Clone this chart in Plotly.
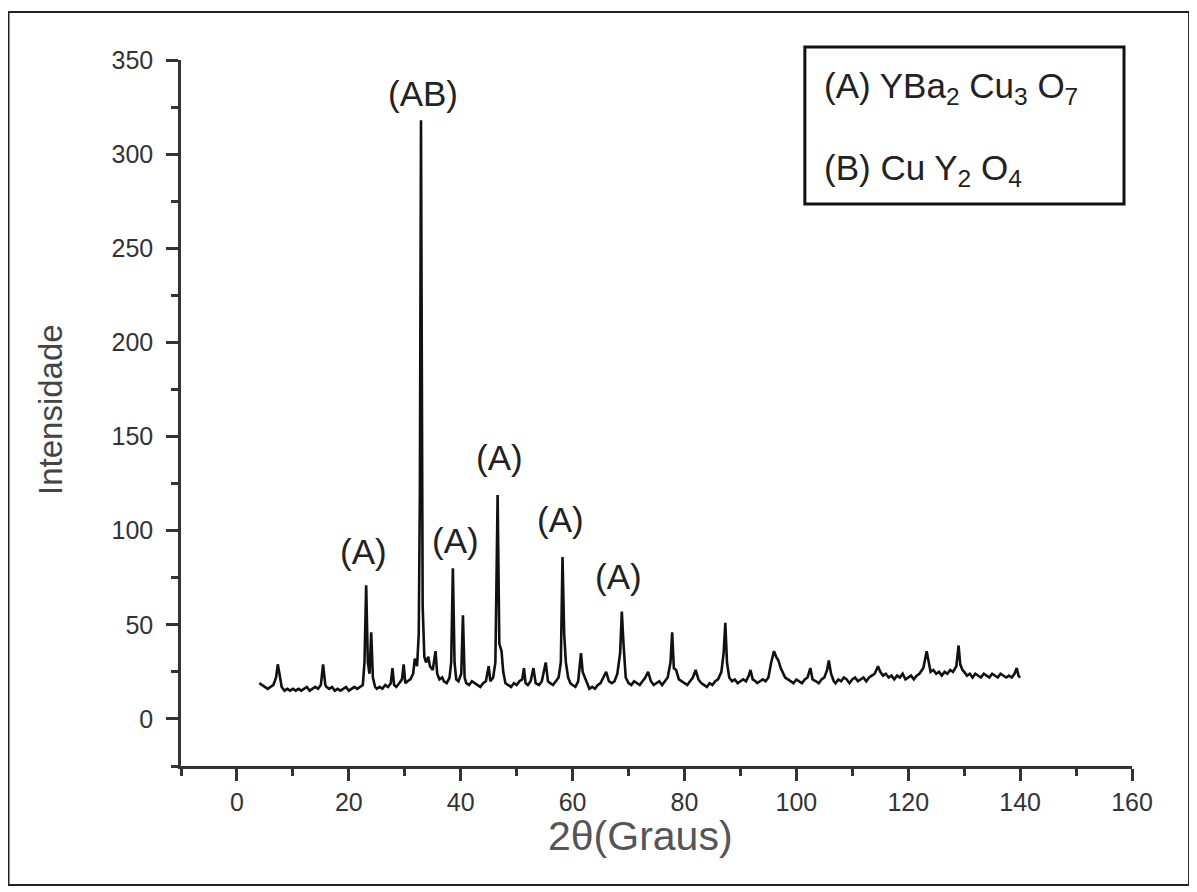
import plotly.graph_objects as go

# --- data ---
two_theta = [
    4.0, 4.5, 5.0, 5.5, 6.0, 6.5, 7.0, 7.3, 7.6, 8.0, 8.5, 9.0, 9.5, 10.0,
    10.5, 11.0, 11.5, 12.0, 12.5, 13.0, 13.5, 14.0, 14.5, 15.0, 15.4, 15.8, 16.0, 16.5,
    17.0, 17.5, 18.0, 18.5, 19.0, 19.5, 20.0, 20.5, 21.0, 21.5, 22.0, 22.5, 22.8, 23.1,
    23.4, 23.7, 24.0, 24.3, 24.7, 25.0, 25.5, 26.0, 26.5, 27.0, 27.5, 27.8, 28.1, 28.5,
    29.0, 29.5, 29.8, 30.1, 30.5, 31.0, 31.5, 31.8, 32.2, 32.5, 32.7, 32.9, 33.05, 33.2,
    33.5, 33.8, 34.2, 34.5, 35.0, 35.5, 35.8, 36.2, 36.7, 37.0, 37.5, 38.0, 38.3, 38.6,
    38.9, 39.2, 39.6, 40.1, 40.4, 40.7, 41.0, 41.5, 42.0, 42.5, 43.0, 43.5, 44.0, 44.5,
    45.0, 45.3, 45.8, 46.2, 46.6, 46.9, 47.3, 47.6, 48.0, 48.5, 49.0, 49.5, 50.0, 50.5,
    51.0, 51.3, 51.6, 52.0, 52.5, 53.0, 53.4, 54.0, 54.5, 55.2, 55.6, 56.0, 56.5, 57.0,
    57.5, 57.9, 58.2, 58.5, 58.8, 59.2, 59.6, 60.0, 60.5, 61.0, 61.5, 61.8, 62.2, 62.6,
    63.0, 63.5, 64.0, 64.5, 65.0, 65.5, 66.0, 66.5, 67.0, 67.5, 68.0, 68.5, 68.8, 69.1,
    69.5, 70.0, 70.5, 71.0, 71.5, 72.0, 72.5, 73.0, 73.5, 74.0, 74.5, 75.0, 75.5, 76.0,
    76.5, 77.0, 77.5, 77.8, 78.1, 78.5, 79.0, 79.5, 80.0, 80.5, 81.0, 81.5, 82.0, 82.5,
    83.0, 83.5, 84.0, 84.5, 85.0, 85.5, 86.0, 86.6, 87.0, 87.3, 87.6, 88.0, 88.5, 89.0,
    89.5, 90.0, 90.5, 91.0, 91.5, 91.8, 92.2, 92.7, 93.0, 93.5, 94.0, 94.5, 95.0, 95.5,
    96.0, 96.4, 96.8, 97.2, 97.6, 98.0, 98.5, 99.0, 99.5, 100.0, 100.5, 101.0, 101.5, 102.0,
    102.5, 102.9, 103.5, 104.0, 104.5, 105.0, 105.5, 105.8, 106.2, 106.7, 107.0, 107.5, 108.0, 108.5,
    109.0, 109.5, 110.0, 110.5, 111.0, 111.5, 112.0, 112.5, 113.0, 113.5, 114.0, 114.6, 115.0, 115.5,
    116.0, 116.5, 117.0, 117.5, 118.0, 118.5, 119.0, 119.5, 120.0, 120.5, 121.0, 121.5, 122.0, 122.7,
    123.3, 123.7, 124.0, 124.5, 125.0, 125.5, 126.0, 126.5, 127.0, 127.5, 128.0, 128.6, 129.0, 129.3,
    129.7, 130.0, 130.5, 131.0, 131.5, 132.0, 132.5, 133.0, 133.5, 134.0, 134.5, 135.0, 135.5, 136.0,
    136.5, 137.0, 137.5, 138.0, 138.5, 139.0, 139.4, 139.7, 140.0,
]
intensity = [
    19, 18, 17, 16, 17, 18, 22, 29, 24, 17, 15, 16, 15, 16,
    15, 16, 15, 16, 17, 15, 16, 17, 16, 18, 29, 18, 17, 16,
    17, 15, 16, 15, 16, 17, 15, 16, 17, 16, 17, 18, 30, 71,
    30, 24, 46, 22, 17, 16, 17, 16, 18, 17, 19, 27, 18, 17,
    19, 21, 29, 19, 20, 21, 24, 32, 28, 45, 120, 318, 185, 60,
    33, 30, 33, 28, 26, 36, 24, 21, 22, 20, 19, 22, 30, 80,
    30, 21, 20, 24, 55, 22, 19, 18, 20, 19, 18, 17, 19, 20,
    28, 20, 22, 30, 119, 40, 36, 25, 19, 18, 17, 19, 18, 20,
    21, 27, 19, 18, 20, 27, 19, 18, 20, 30, 20, 19, 18, 20,
    22, 30, 86, 45, 30, 22, 19, 18, 17, 20, 35, 25, 22, 18,
    16, 17, 16, 18, 19, 22, 25, 20, 19, 20, 24, 35, 57, 40,
    22, 19, 18, 20, 19, 18, 20, 22, 25, 20, 18, 19, 20, 18,
    20, 22, 30, 46, 27, 26, 21, 20, 19, 18, 20, 22, 26, 21,
    19, 18, 17, 19, 18, 20, 21, 25, 35, 51, 30, 22, 20, 21,
    19, 20, 21, 20, 23, 26, 21, 20, 19, 20, 21, 20, 22, 30,
    36, 33, 31, 27, 24, 22, 21, 20, 19, 21, 20, 19, 21, 22,
    27, 21, 20, 19, 21, 22, 26, 31, 24, 20, 19, 21, 20, 22,
    21, 19, 21, 22, 20, 21, 22, 20, 22, 23, 24, 28, 25, 23,
    24, 22, 23, 21, 23, 22, 24, 21, 22, 23, 21, 23, 24, 27,
    36, 29, 25, 26, 24, 25, 23, 25, 24, 26, 25, 28, 39, 29,
    26, 25, 23, 24, 22, 24, 23, 22, 24, 23, 22, 24, 23, 22,
    24, 23, 22, 23, 22, 24, 27, 23, 22,
]

peak_label_x = [33.2, 22.7, 39.1, 47.0, 57.9, 68.2]
peak_label_y = [332, 89, 95, 139, 106, 75.5]
peak_label_text = ["(AB)", "(A)", "(A)", "(A)", "(A)", "(A)"]

x_ticks = [0, 20, 40, 60, 80, 100, 120, 140, 160]
y_ticks = [0, 50, 100, 150, 200, 250, 300, 350]

phase_lines = ["(A) YBa<sub>2</sub> Cu<sub>3</sub> O<sub>7</sub>",
               "(B) Cu Y<sub>2</sub> O<sub>4</sub>"]

FONT = "Liberation Sans, Arial, sans-serif"
AX = "#333333"

fig = go.Figure()
fig.add_trace(go.Scatter(
    x=two_theta, y=intensity, mode="lines",
    line=dict(color="#111111", width=2.6),
    showlegend=False, hoverinfo="x+y",
))

for tx, ty, tt in zip(peak_label_x, peak_label_y, peak_label_text):
    fig.add_annotation(x=tx, y=ty, text=tt, showarrow=False,
                       font=dict(family=FONT, size=35, color="#222222"),
                       xanchor="center", yanchor="middle")

# axis titles
fig.add_annotation(xref="paper", yref="paper", x=-0.1367, y=0.5057,
                   text="Intensidade", textangle=-90, showarrow=False,
                   font=dict(family=FONT, size=33, color="#444444"),
                   xanchor="center", yanchor="middle")
fig.add_annotation(xref="paper", yref="paper", x=0.4837, y=-0.0992,
                   text="2θ(Graus)", showarrow=False,
                   font=dict(family=FONT, size=41, color="#555555"),
                   xanchor="center", yanchor="middle")

# phase key box
for txt, yp in zip(phase_lines, [0.960, 0.844]):
    fig.add_annotation(xref="paper", yref="paper", x=0.674, y=yp,
                       text=txt, showarrow=False,
                       font=dict(family=FONT, size=35, color="#222222"),
                       xanchor="left", yanchor="middle")
fig.add_shape(type="rect", xref="paper", yref="paper",
              x0=0.656, x1=0.9916, y0=0.796, y1=1.0184,
              line=dict(color="#111111", width=3))
# outer frame
fig.add_shape(type="rect", xref="paper", yref="paper",
              x0=-0.1814, x1=1.060, y0=-0.1686, y1=1.068,
              line=dict(color="#222222", width=2))

fig.update_layout(
    width=1189, height=884,
    margin=dict(l=173, r=65, t=52, b=126),
    plot_bgcolor="white", paper_bgcolor="white",
    font=dict(family=FONT, color="#333333"),
    showlegend=False,
    xaxis=dict(range=[-10, 160], tickvals=x_ticks, showgrid=False, zeroline=False,
               showline=True, linecolor=AX, linewidth=2.5,
               ticks="outside", ticklen=12, tickwidth=2.5, tickcolor=AX,
               tickfont=dict(family=FONT, size=25, color="#333333"),
               ticklabelstandoff=0,
               minor=dict(ticks="outside", ticklen=7, tickwidth=2.5, tickcolor=AX, dtick=10, tick0=0)),
    yaxis=dict(range=[-25, 350], tickvals=y_ticks, showgrid=False, zeroline=False,
               showline=True, linecolor=AX, linewidth=2.5,
               ticks="outside", ticklen=12, tickwidth=2.5, tickcolor=AX,
               tickfont=dict(family=FONT, size=25, color="#333333"),
               ticklabelstandoff=8,
               minor=dict(ticks="outside", ticklen=7, tickwidth=2.5, tickcolor=AX, dtick=25, tick0=0)),
)

fig.write_html("out.html")
